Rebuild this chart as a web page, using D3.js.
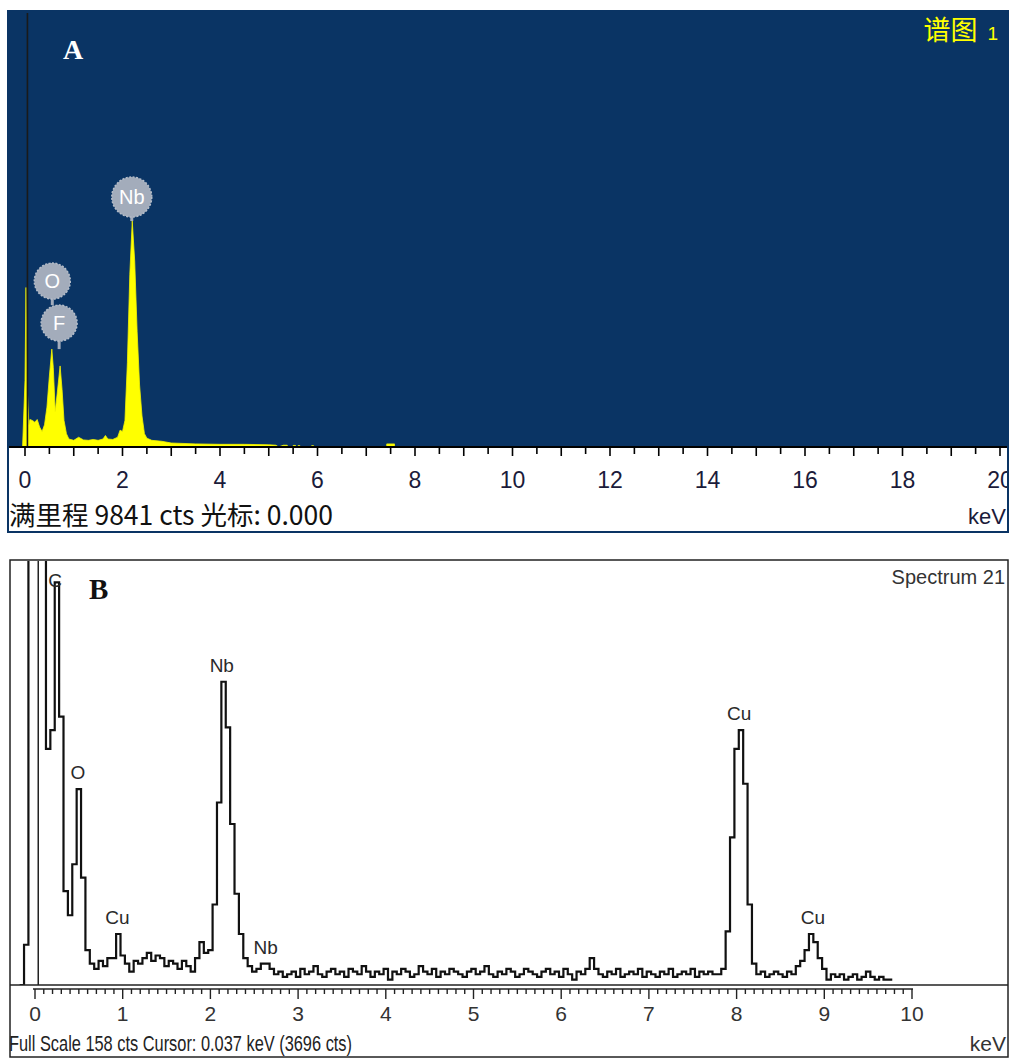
<!DOCTYPE html>
<html><head><meta charset="utf-8">
<script src="https://cdn.jsdelivr.net/npm/d3@7"></script>
<style>body{margin:0;background:#fff}svg{display:block}</style>
</head><body>
<svg id="c" width="1011" height="1059"></svg>
<script>
// ================= DATA =================
// Panel A (EDS spectrum, Chinese UI)
const energiesA = [-0.05,0,0.02,0.05,0.08,0.10,0.15,0.20,0.25,0.30,0.35,0.40,0.45,0.50,0.55,0.58,0.62,0.66,0.72,0.76,0.80,0.85,0.90,1.0,1.1,1.2,1.3,1.4,1.5,1.6,1.65,1.7,1.8,1.9,1.95,2.0,2.05,2.1,2.15,2.2,2.25,2.3,2.35,2.4,2.45,2.5,2.6,2.8,3.0,3.5,4.0,4.5,5.0,5.15,5.2,5.3,5.38,5.4,5.5,5.55,5.56,5.6,5.64,5.65,5.88,5.92,5.93,7.42,7.58];
const countsA   = [0,1500,3600,1200,500,620,600,560,620,450,350,500,900,1600,2210,1800,800,1200,1830,1300,600,300,180,150,220,160,150,170,150,180,260,180,170,220,380,350,600,1900,3900,5100,4200,2600,1400,700,300,200,150,130,90,70,60,60,50,40,0,40,40,null,35,35,null,30,30,null,30,30,null,70,70];
const fullScaleA = 9841;
const axisMaxA = 20;
const tickStepA = 0.5;
const tickLabelsA = [0,2,4,6,8,10,12,14,16,18,20];
const peakNamesA = ["O","F","Nb"];
const peakEnergiesA = [0.56,0.70,2.19];
const peakCountsA = [2210,2210,5100];
const cursorA = 0.05;
const titleA = "谱图";
const titleNumA = "1";
const statusA = "满里程 9841 cts 光标: 0.000";
const unitA = "keV";
const panelLetterA = "A";

// Panel B (EDS spectrum, English UI)
const channelStartB = -0.175;   // keV
const channelWidthB = 0.05;     // keV
const countsB = [
0,
15,1500,3400,3696,900,
88,95,150,100,35,
26,45,73,40,13,
8,6,9,7,10,10,19,11,8,5,
9,8,10,12,9,11,10,7,9,8,
6,9,7,5,10,16,12,13,30,68,
113,96,60,34,19,10,7,5,6,8,
8,6,4,5,3,
4,5,3,6,4,5,7,4,3,5,
6,4,5,3,6,5,4,7,5,3,
5,4,6,2,5,4,6,5,3,4,
7,5,4,6,3,5,4,6,5,4,
3,5,6,4,5,7,4,3,5,4,
6,5,3,4,6,5,4,3,5,6,
4,5,3,6,4,2,5,4,6,10,
6,4,3,5,4,6,3,4,5,4,
6,3,5,4,3,5,4,6,3,4,
5,4,6,3,5,4,5,4,
4,6,20,55,88,95,75,30,8,4,
5,3,4,5,4,3,5,4,7,9,
13,19,16,10,6,2,4,3,4,2,
3,4,2,3,5,3,2,3,2,2];
const fullScaleB = 158;
const axisMaxB = 10;
const tickLabelsB = [0,1,2,3,4,5,6,7,8,9,10];
const peakNamesB    = ["C","O","Cu","Nb","Nb","Cu","Cu"];
const peakEnergiesB = [0.23,0.49,0.94,2.13,2.63,8.03,8.87];
const peakCountsB   = [158,73,19,113,8,95,19];
const cursorB = 0.037;
const titleB = "Spectrum 21";
const statusB = "Full Scale 158 cts  Cursor: 0.037 keV (3696 cts)";
const unitB = "keV";
const panelLetterB = "B";

// ================= DRAW =================
const svg = d3.select("#c");
const navy = "#0a3464";
const sans = "'Liberation Sans', Arial, sans-serif";
const cjk = "'Noto Sans CJK SC', 'Liberation Sans', sans-serif";
const serif = "'Liberation Serif', 'Times New Roman', serif";

// ---------- Panel A ----------
const A = {l:8, r:1008, t:11, base:447, b:532};
const xA = d3.scaleLinear().domain([0, axisMaxA]).range([25, 1000]);
const yA = d3.scaleLinear().domain([0, fullScaleA]).range([A.base, A.t]);

svg.append("rect").attr("x",A.l).attr("y",A.t).attr("width",A.r-A.l).attr("height",A.b-A.t)
  .attr("fill","#fff");
svg.append("rect").attr("x",A.l).attr("y",A.t).attr("width",A.r-A.l).attr("height",A.base-A.t)
  .attr("fill",navy);

const defs = svg.append("defs");
defs.append("clipPath").attr("id","clipA").append("rect")
  .attr("x",A.l).attr("y",A.t).attr("width",A.r-A.l).attr("height",A.base-A.t);
defs.append("clipPath").attr("id","clipAall").append("rect")
  .attr("x",A.l).attr("y",A.t).attr("width",A.r-A.l-1).attr("height",A.b-A.t);

const dataA = energiesA.map((e,i)=>({e, c:countsA[i]}));
svg.append("path").datum(dataA).attr("clip-path","url(#clipA)")
  .attr("fill","#ffff00").attr("stroke","#f4f400").attr("stroke-width",0.8)
  .attr("d", d3.area().defined(d=>d.c!==null).x(d=>xA(d.e)).y0(yA(0)).y1(d=>yA(d.c)));

// cursor line A
svg.append("line").attr("x1",xA(cursorA)).attr("x2",xA(cursorA)).attr("y1",A.t+2).attr("y2",A.base)
  .attr("stroke","#1a1a1a").attr("stroke-width",1.6);

// peak badges A
const badgeFill = "#a3acbb";
const yF = yA(peakCountsA[1]) - 26;
const badges = [
  {name:peakNamesA[0], cx:xA(peakEnergiesA[0]), cy:yF - 42, r:18, stemTo:yF-18},
  {name:peakNamesA[1], cx:xA(peakEnergiesA[1]), cy:yF, r:18, stemTo:yA(peakCountsA[1])},
  {name:peakNamesA[2], cx:xA(peakEnergiesA[2]), cy:yA(peakCountsA[2]) - 24, r:20, stemTo:yA(peakCountsA[2])}
];
badges.forEach(b=>{
  svg.append("line").attr("x1",b.cx).attr("x2",b.cx).attr("y1",b.cy+b.r-2).attr("y2",b.stemTo)
    .attr("stroke",badgeFill).attr("stroke-width",3);
});
badges.forEach(b=>{
  svg.append("circle").attr("cx",b.cx).attr("cy",b.cy).attr("r",b.r)
    .attr("fill",badgeFill).attr("stroke","#b4bcc8").attr("stroke-width",1.5)
    .attr("stroke-dasharray","2,1.5");
  svg.append("text").attr("x",b.cx).attr("y",b.cy+7).attr("text-anchor","middle")
    .attr("font-family",sans).attr("font-size",20).attr("fill","#ffffff").text(b.name);
});

// axis A
svg.append("line").attr("x1",A.l).attr("x2",A.r).attr("y1",A.base).attr("y2",A.base)
  .attr("stroke","#000").attr("stroke-width",2);
const gAx = svg.append("g").attr("clip-path","url(#clipAall)");
gAx.selectAll("line.t").data(d3.range(0, axisMaxA + 1e-9, tickStepA)).join("line")
  .attr("x1",d=>xA(d)).attr("x2",d=>xA(d)).attr("y1",A.base)
  .attr("y2",d=>A.base + (Number.isInteger(d)?9:7))
  .attr("stroke","#000").attr("stroke-width",1.6);
gAx.selectAll("text.t").data(tickLabelsA).join("text")
  .attr("x",d=>xA(d)).attr("y",488).attr("text-anchor","middle")
  .attr("font-family",sans).attr("font-size",23).attr("fill","#1b1b3a").text(d=>d);

svg.append("text").attr("x",9).attr("y",525).attr("font-family",cjk).attr("font-size",26.5)
  .attr("fill","#111").text(statusA);
svg.append("text").attr("x",1006).attr("y",524).attr("text-anchor","end")
  .attr("font-family",sans).attr("font-size",22).attr("fill","#1b1b3a").text(unitA);

// title A
const tA = svg.append("text").attr("x",998).attr("y",40).attr("text-anchor","end").attr("fill","#ffff00");
tA.append("tspan").attr("font-family",cjk).attr("font-size",27).text(titleA);
tA.append("tspan").attr("font-family",sans).attr("font-size",19).attr("dx",10).text(titleNumA);

svg.append("text").attr("x",63).attr("y",59).attr("font-family",serif).attr("font-weight","bold")
  .attr("font-size",28).attr("fill","#fff").text(panelLetterA);

svg.append("rect").attr("x",A.l).attr("y",A.t).attr("width",A.r-A.l).attr("height",A.b-A.t)
  .attr("fill","none").attr("stroke",navy).attr("stroke-width",2);

// ---------- Panel B ----------
const B = {l:10, r:1008, t:561, base:985, b:1057};
const xB = d3.scaleLinear().domain([0, axisMaxB]).range([35, 912]);
const yB = d3.scaleLinear().domain([0, fullScaleB]).range([B.base, B.t]);

defs.append("clipPath").attr("id","clipB").append("rect")
  .attr("x",B.l).attr("y",B.t).attr("width",B.r-B.l).attr("height",B.base-B.t);

const dataB = countsB.map((c,i)=>({e: channelStartB + i*channelWidthB, c}));
dataB.push({e: channelStartB + countsB.length*channelWidthB, c: countsB[countsB.length-1]});

// cursor B
svg.append("line").attr("x1",xB(cursorB)).attr("x2",xB(cursorB)).attr("y1",B.t).attr("y2",B.base)
  .attr("stroke","#222").attr("stroke-width",1.5);

svg.append("path").datum(dataB).attr("clip-path","url(#clipB)")
  .attr("fill","none").attr("stroke","#111").attr("stroke-width",2.2)
  .attr("d", d3.line().curve(d3.curveStepAfter).x(d=>xB(d.e)).y(d=>yB(d.c)));

// peak labels B
svg.selectAll("text.pb").data(peakNamesB).join("text")
  .attr("x",(d,i)=>xB(peakEnergiesB[i]))
  .attr("y",(d,i)=>Math.max(yB(peakCountsB[i]) - 10, B.t + 26))
  .attr("text-anchor","middle").attr("font-family",sans).attr("font-size",19)
  .attr("fill","#2a2a2a").text(d=>d);

// axis B
svg.append("line").attr("x1",B.l).attr("x2",B.r).attr("y1",B.base).attr("y2",B.base)
  .attr("stroke","#222").attr("stroke-width",1.5);
svg.append("line").attr("x1",xB(0)-2).attr("x2",xB(axisMaxB)+1).attr("y1",B.base+4).attr("y2",B.base+4)
  .attr("stroke","#222").attr("stroke-width",1.5);
svg.selectAll("line.tb").data(d3.range(0, axisMaxB*10 + 1)).join("line")
  .attr("x1",d=>xB(d/10)).attr("x2",d=>xB(d/10)).attr("y1",B.base+4)
  .attr("y2",d=>B.base + (d%10===0?14:9))
  .attr("stroke","#222").attr("stroke-width",1.4);
svg.selectAll("text.tb").data(tickLabelsB).join("text")
  .attr("x",d=>xB(d)).attr("y",1021).attr("text-anchor","middle")
  .attr("font-family",sans).attr("font-size",21).attr("fill","#333").text(d=>d);

svg.append("text").attr("x",9).attr("y",1051).attr("font-family",sans).attr("font-size",22)
  .attr("textLength",343).attr("lengthAdjust","spacingAndGlyphs")
  .attr("fill","#222").text(statusB);
svg.append("text").attr("x",1006).attr("y",1051).attr("text-anchor","end")
  .attr("font-family",sans).attr("font-size",21).attr("fill","#333").text(unitB);
svg.append("text").attr("x",1005).attr("y",584).attr("text-anchor","end")
  .attr("font-family",sans).attr("font-size",20).attr("fill","#333").text(titleB);
svg.append("text").attr("x",89).attr("y",599).attr("font-family",serif).attr("font-weight","bold")
  .attr("font-size",29).attr("fill","#111").text(panelLetterB);

svg.append("rect").attr("x",B.l).attr("y",B.t-1).attr("width",B.r-B.l).attr("height",B.b-B.t+1)
  .attr("fill","none").attr("stroke","#222").attr("stroke-width",1.5);
</script>
</body></html>
